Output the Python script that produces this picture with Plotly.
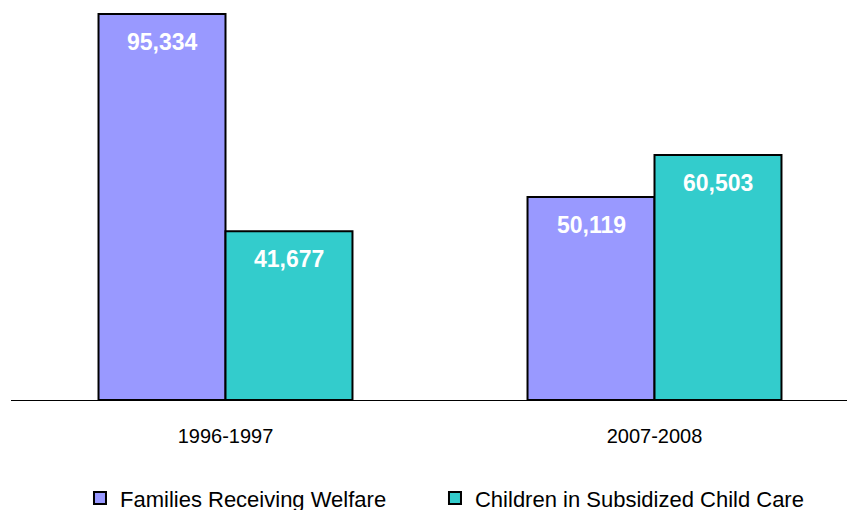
import plotly.graph_objects as go

categories = ["1996-1997", "2007-2008"]
series_names = ["Families Receiving Welfare", "Children in Subsidized Child Care"]
welfare = [95334, 50119]
childcare = [41677, 60503]
colors = ["#9999FF", "#33CCCC"]
legend_ids = ["legend", "legend2"]

fig = go.Figure()
for name, vals, col, lg in zip(series_names, [welfare, childcare], colors, legend_ids):
    fig.add_trace(go.Bar(
        x=categories, y=vals, name=name, legend=lg,
        marker=dict(color=col, line=dict(color="black", width=2)),
    ))

bar_px = 127
for i, vals in enumerate([welfare, childcare]):
    shift = (i - 0.5) * bar_px
    for c, v in zip(categories, vals):
        fig.add_annotation(
            x=c, y=v, xref="x", yref="y", text=f"<b>{v:,}</b>",
            showarrow=False, xshift=shift, yshift=-28,
            font=dict(family="Liberation Sans, Arial", size=23, color="white"),
        )

legend_style = dict(
    orientation="h", xref="container", yref="container",
    xanchor="left", y=0.039, yanchor="middle",
    font=dict(size=22, color="black"), itemwidth=30,
)

fig.update_layout(
    width=855, height=510,
    margin=dict(l=3, r=8, t=2, b=118, autoexpand=False),
    plot_bgcolor="white", paper_bgcolor="white",
    barmode="group", bargap=0.408, bargroupgap=0,
    font=dict(family="Liberation Sans, Arial", color="black"),
    showlegend=True,
    legend=dict(x=0.0842, **legend_style),
    legend2=dict(x=0.4994, **legend_style),
)
fig.update_xaxes(
    range=[-0.5, -0.5 + 844 / 429], showline=True, linecolor="black", linewidth=1,
    ticks="", tickfont=dict(size=20, color="black"), showgrid=False, zeroline=False,
    ticklabelstandoff=18, automargin=False,
)
fig.update_yaxes(range=[0, 96322], visible=False, showgrid=False, automargin=False)

fig.write_html("out.html")
